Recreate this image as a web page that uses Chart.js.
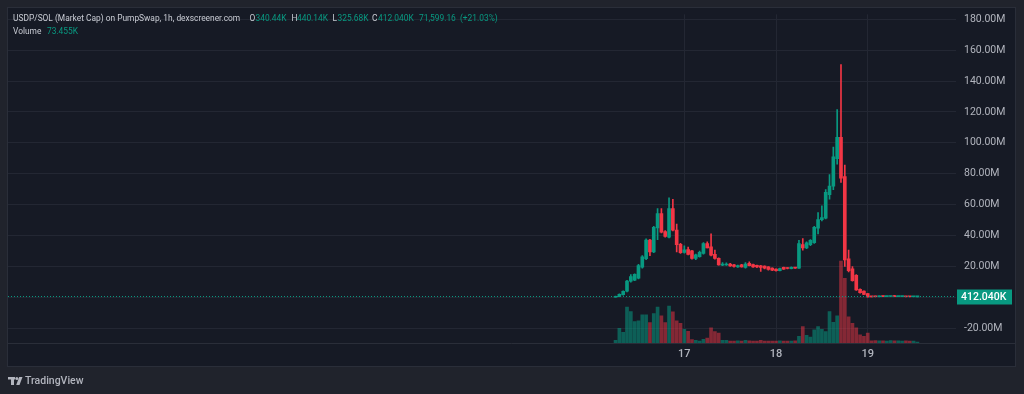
<!DOCTYPE html>
<html>
<head>
<meta charset="utf-8">
<script src="https://cdn.jsdelivr.net/npm/chart.js@4.4.1/dist/chart.umd.min.js"></script>
<style>
  html, body { margin: 0; padding: 0; background: #20232c; }
  #chart { display: block; }
</style>
</head>
<body>
<canvas id="chart" width="1024" height="394"></canvas>
<script>
// hourly candles, market cap in millions; first candle is the 16th, 06:00
var firstHour = 6;
var opens = [0.1, 0.5, 1.8, 4.0, 10.5, 11.2, 12.4, 19.5, 25.0, 37.1,
  29.5, 45.0, 54.3, 42.6, 39.0, 57.5, 43.5, 34.4, 29.1, 31.0,
  30.2, 25.3, 26.3, 28.4, 34.8, 32.7, 27.8, 25.3, 20.9, 21.0,
  21.5, 21.1, 19.8, 21.1, 19.4, 22.1, 21.3, 20.8, 20.4, 20.2,
  19.8, 18.9, 18.3, 17.3, 19.4, 19.0, 18.6, 19.3, 19.0, 34.2,
  32.1, 34.2, 35.4, 44.8, 50.3, 51.3, 66.5, 72.0, 89.8, 103.6,
  78.2, 24.9, 18.5, 14.3, 5.2, 4.1, 2.4, 0.5, 0.6, 0.4,
  0.9, 0.5, 0.6, 0.9, 0.5, 0.55, 0.6, 0.5, 0.4, 0.34044];
var highs = [0.8, 2.3, 4.3, 11.0, 14.7, 15.3, 21.4, 27.0, 37.9, 37.6,
  46.0, 57.5, 57.5, 43.2, 64.4, 63.5, 47.5, 35.0, 33.3, 32.5,
  30.5, 28.0, 30.0, 35.5, 36.0, 41.1, 30.6, 25.6, 22.5, 22.3,
  22.0, 21.4, 21.0, 21.4, 22.5, 23.0, 21.6, 21.0, 20.7, 20.4,
  20.0, 19.1, 18.5, 18.9, 19.6, 19.3, 19.8, 19.5, 37.0, 38.0,
  36.0, 37.5, 46.0, 54.9, 59.2, 69.7, 79.5, 97.3, 121.6, 150.6,
  85.6, 30.6, 20.0, 14.8, 5.5, 4.3, 2.6, 0.7, 0.8, 1.0,
  1.1, 0.7, 0.8, 1.3, 0.7, 0.7, 0.7, 0.6, 0.55, 0.44014];
var lows = [0.1, 0.4, 1.5, 3.6, 9.8, 10.9, 12.0, 19.0, 24.5, 27.0,
  29.0, 37.3, 41.8, 39.0, 38.5, 43.0, 29.5, 28.5, 28.6, 27.5,
  24.8, 24.5, 26.0, 28.0, 32.0, 26.8, 24.8, 20.8, 20.5, 20.7,
  20.0, 19.6, 19.4, 19.5, 19.0, 20.4, 19.4, 19.3, 16.8, 18.5,
  17.7, 17.3, 17.0, 17.1, 18.1, 18.5, 18.4, 18.8, 18.8, 30.6,
  31.5, 33.5, 35.0, 41.1, 49.5, 50.8, 63.6, 69.7, 86.2, 74.4,
  20.0, 16.5, 10.5, 4.5, 2.8, 1.8, 0.2, 0.3, 0.3, 0.3,
  0.4, 0.4, 0.5, 0.4, 0.4, 0.45, 0.35, 0.33, 0.32, 0.32568];
var closes = [0.6, 2.0, 4.0, 10.5, 13.4, 14.9, 20.6, 26.3, 37.1, 29.5,
  45.4, 54.3, 42.2, 39.4, 57.5, 43.5, 34.2, 29.0, 30.8, 27.8,
  25.3, 27.6, 29.1, 34.8, 32.1, 27.4, 25.3, 21.1, 21.6, 21.6,
  20.4, 20.0, 20.6, 19.8, 21.5, 20.6, 19.8, 19.8, 19.4, 18.9,
  18.1, 17.6, 17.3, 18.7, 18.3, 18.7, 19.5, 19.0, 34.8, 32.1,
  35.4, 37.0, 45.4, 50.3, 51.7, 68.0, 72.0, 90.9, 103.6, 77.1,
  24.3, 17.3, 10.9, 4.8, 3.0, 2.0, 0.3, 0.3, 0.4, 0.9,
  0.5, 0.6, 0.7, 0.5, 0.6, 0.6, 0.4, 0.4, 0.5, 0.41204];
// volume in thousands
var volumes = [190, 1050, 770, 2570, 2240, 1520, 1590, 2010, 2010, 1450,
  2100, 2570, 1940, 1450, 2640, 2220, 1590, 1400, 980, 840,
  240, 190, 140, 260, 350, 1080, 820, 700, 190, 190,
  140, 140, 150, 130, 190, 150, 140, 130, 190, 140,
  140, 130, 140, 150, 140, 130, 140, 150, 470, 1170,
  540, 420, 940, 1170, 980, 820, 2240, 1470, 1940, 5840,
  4620, 1870, 1400, 1080, 590, 470, 700, 160, 170, 150,
  160, 140, 170, 150, 160, 140, 150, 140, 130, 73.455];

var dayTicks = [24, 48, 72];
var dayLabels = ['17', '18', '19'];
var priceTicks = [-20, 0, 20, 40, 60, 80, 100, 120, 140, 160, 180];

var up = '#089981', down = '#f23645';
var hours = opens.map((o, i) => firstHour + i);
var isUp = opens.map((o, i) => closes[i] >= o);
var candleColors = isUp.map((u) => u ? up : down);
var volColors = isUp.map((u) => u ? 'rgba(8,153,129,0.55)' : 'rgba(242,54,69,0.5)');

var frame = {
  id: 'frame',
  beforeDraw: function (chart) {
    var ctx = chart.ctx;
    ctx.save();
    ctx.fillStyle = '#20232c';
    ctx.fillRect(0, 0, chart.width, chart.height);
    ctx.fillStyle = '#161a25';
    ctx.fillRect(7, 7, 1009, 360);
    ctx.strokeStyle = '#2a2e39';
    ctx.lineWidth = 1;
    ctx.strokeRect(7.5, 7.5, 1008, 359);
    ctx.beginPath();
    ctx.moveTo(7, 343.5);
    ctx.lineTo(1016, 343.5);
    ctx.stroke();
    ctx.restore();
  },
  afterDatasetsDraw: function (chart) {
    var ctx = chart.ctx, area = chart.chartArea;
    var last = closes[closes.length - 1];
    var y = Math.round(chart.scales.y.getPixelForValue(last)) - 0.5;
    ctx.save();
    ctx.strokeStyle = up;
    ctx.lineWidth = 1;
    ctx.setLineDash([1, 2]);
    ctx.beginPath();
    ctx.moveTo(area.left, y);
    ctx.lineTo(area.right, y);
    ctx.stroke();
    ctx.setLineDash([]);
    // price tag on the axis
    ctx.fillStyle = up;
    ctx.fillRect(area.right + 1, y - 7, 55, 15);
    ctx.fillStyle = '#ffffff';
    ctx.font = '500 10.5px Roboto';
    ctx.textBaseline = 'middle';
    ctx.fillText('412.040K', area.right + 5, y + 1);
    ctx.restore();
  },
  afterDraw: function (chart) {
    var ctx = chart.ctx;
    ctx.save();
    ctx.textBaseline = 'middle';
    ctx.font = '8.4px Roboto';
    var grey = '#c8cbd3';
    var parts = [
      ['USDP/SOL (Market Cap) on PumpSwap, 1h, dexscreener.com', grey, 13],
      ['O', grey, 249.5], ['340.44K', up, 255.5],
      ['H', grey, 291.5], ['440.14K', up, 297],
      ['L', grey, 332.5], ['325.68K', up, 337.5],
      ['C', grey, 372], ['412.040K', up, 378],
      ['71,599.16', up, 419], ['(+21.03%)', up, 460]
    ];
    parts.forEach(function (p) {
      ctx.fillStyle = p[1];
      ctx.fillText(p[0], p[2], 18.5);
    });
    ctx.fillStyle = grey;
    ctx.fillText('Volume', 13, 32);
    ctx.fillStyle = up;
    ctx.fillText('73.455K', 47, 32);

    // TradingView mark
    ctx.fillStyle = '#b2b5be';
    ctx.fillRect(8, 377, 7, 2.5);
    ctx.fillRect(11, 377, 3, 8);
    ctx.beginPath();
    ctx.arc(16.8, 378.4, 1.5, 0, Math.PI * 2);
    ctx.fill();
    ctx.beginPath();
    ctx.moveTo(19.2, 377);
    ctx.lineTo(22.5, 377);
    ctx.lineTo(19.5, 385);
    ctx.lineTo(16.2, 385);
    ctx.closePath();
    ctx.fill();
    ctx.font = '500 10.5px Roboto';
    ctx.fillText('TradingView', 25, 381.5);
    ctx.restore();
  }
};

var ctx = document.getElementById('chart').getContext('2d');
window.myChart = new Chart(ctx, {
  type: 'bar',
  data: {
    datasets: [
      {
        label: 'Body',
        data: hours.map((h, i) => ({ x: h, y: [opens[i], closes[i]] })),
        backgroundColor: candleColors,
        barThickness: 3,
        minBarLength: 1,
        grouped: false,
        order: 1
      },
      {
        label: 'Wick',
        data: hours.map((h, i) => ({ x: h, y: [lows[i], highs[i]] })),
        backgroundColor: candleColors,
        barThickness: 1,
        grouped: false,
        order: 2
      },
      {
        label: 'Volume',
        data: hours.map((h, i) => ({ x: h, y: volumes[i] })),
        backgroundColor: volColors,
        barThickness: 3,
        grouped: false,
        yAxisID: 'yVol',
        order: 3
      }
    ]
  },
  options: {
    responsive: false,
    animation: false,
    devicePixelRatio: 1,
    layout: { padding: { left: 8, top: 8, right: 8, bottom: 27 } },
    plugins: { legend: { display: false }, tooltip: { enabled: false } },
    scales: {
      x: {
        type: 'linear',
        min: -153,
        max: 95.1,
        offset: false,
        afterBuildTicks: function (s) { s.ticks = dayTicks.map((v) => ({ value: v })); },
        afterFit: function (s) { s.height = 24; },
        ticks: {
          color: '#b2b5be',
          font: { family: 'Roboto', size: 11, weight: '500' },
          padding: 5,
          maxRotation: 0,
          autoSkip: false,
          callback: (v) => dayLabels[dayTicks.indexOf(v)]
        },
        grid: { color: '#232733', drawTicks: false, offset: false },
        border: { display: false }
      },
      y: {
        position: 'right',
        min: -29.5,
        max: 183.2,
        afterBuildTicks: function (s) { s.ticks = priceTicks.map((v) => ({ value: v })); },
        afterFit: function (s) { s.width = 60; },
        ticks: {
          color: '#b2b5be',
          font: { family: 'Roboto', size: 10.5 },
          padding: 8,
          callback: (v) => v === 0 ? '' : v.toFixed(2) + 'M'
        },
        grid: { color: '#232733', drawTicks: false },
        border: { display: false }
      },
      yVol: {
        type: 'linear',
        display: false,
        min: 0,
        max: 23450
      }
    }
  },
  plugins: [frame]
});
</script>
</body>
</html>
